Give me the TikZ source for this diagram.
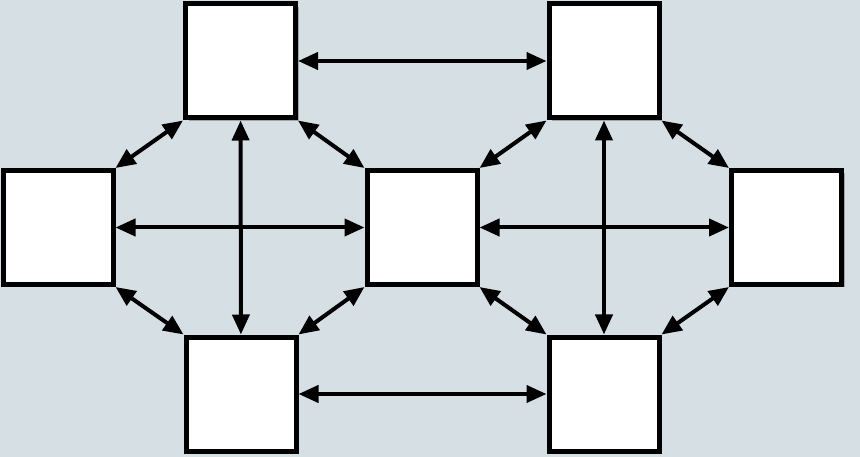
\documentclass[tikz,border=0pt]{standalone}
\usetikzlibrary{arrows.meta,shadows}
\definecolor{bgblue}{RGB}{214,223,228}
\begin{document}
\begin{tikzpicture}[x=1pt,y=-1pt,
  every node/.style = {shape=rectangle, draw, line width=5pt,
    fill=white, minimum width=110pt, minimum height=114pt,
    drop shadow={shadow xshift=3pt, shadow yshift=-3pt, fill=black!50, opacity=0.6}},
  link/.style = {line width=4pt,
    arrows={Triangle[length=20pt,width=17pt]-Triangle[length=20pt,width=17pt]}}]
  \fill[bgblue] (0,0) rectangle (860,457);
  \useasboundingbox (0,0) rectangle (860,457);

  \node (TL) at (240.5,61) {};
  \node (TR) at (604,61) {};
  \node (L) at (58,227.5) {};
  \node (M) at (422,227.5) {};
  \node (R) at (786.5,227.5) {};
  \node (BL) at (241,394) {};
  \node (BR) at (604,394) {};

  \draw[link] (TL) -- (TR);
  \draw[link] (BL) -- (BR);
  \draw[link] (L) -- (M);
  \draw[link] (M) -- (R);
  \draw[link] (TL) -- (BL);
  \draw[link] (TR) -- (BR);
  \draw[link] (L.north east) -- (TL.south west);
  \draw[link] (TL.south east) -- (M.north west);
  \draw[link] (L.south east) -- (BL.north west);
  \draw[link] (BL.north east) -- (M.south west);
  \draw[link] (M.north east) -- (TR.south west);
  \draw[link] (TR.south east) -- (R.north west);
  \draw[link] (M.south east) -- (BR.north west);
  \draw[link] (BR.north east) -- (R.south west);

\end{tikzpicture}
\end{document}
